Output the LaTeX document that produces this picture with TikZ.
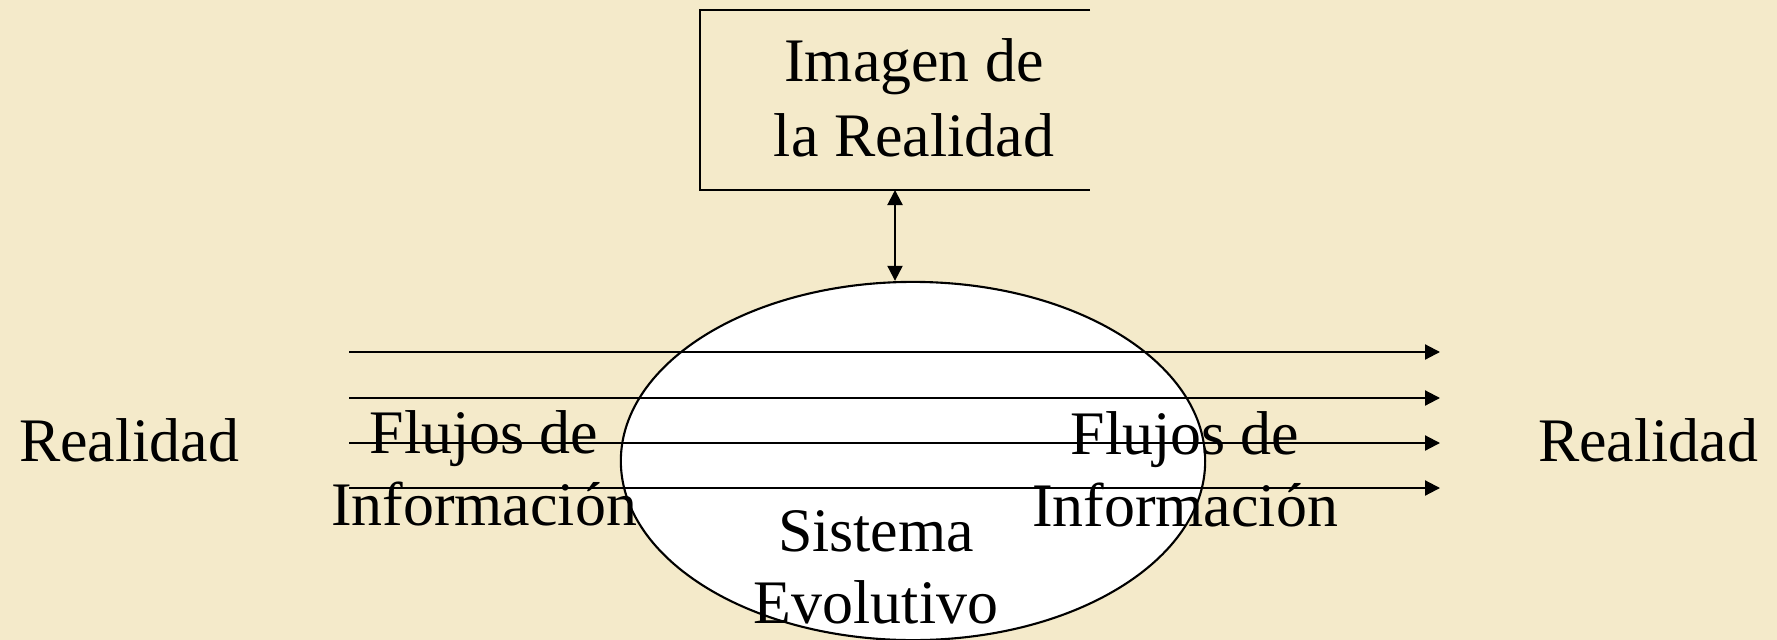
\documentclass[tikz,border=0pt]{standalone}
\usepackage{fontspec}
\setmainfont{Liberation Serif}
\usepackage{xcolor}
\usepackage{tikz}
\usetikzlibrary{arrows.meta,positioning,shapes.geometric}
\definecolor{parch}{RGB}{244,234,202}
\tikzset{
  lbl/.style  ={inner sep=0pt, align=center, anchor=base,
                font=\fontsize{17.6}{20.2}\selectfont},
  sys/.style  ={ellipse, draw, fill=white, line width=0.6pt, inner sep=0pt,
                minimum width=5.84cm, minimum height=3.58cm},
  flow/.style ={-{Triangle[length=1.5mm, width=1.5mm]}, line width=0.6pt},
  link/.style ={{Triangle[length=1.5mm, width=1.5mm]}-{Triangle[length=1.5mm, width=1.5mm]},
                line width=0.6pt},
  frame/.style={line width=0.8pt}
}
\begin{document}
\begin{tikzpicture}[x=0.01cm, y=-0.01cm]
\fill[parch] (0,0) rectangle (1777,640);
\useasboundingbox (0,0) rectangle (1777,640);

% imagen de la realidad
\coordinate (imgtr) at (1090,10);
\coordinate (imgtl) at (700,10);
\coordinate (imgbl) at (700,190);
\coordinate (imgbr) at (1090,190);
\coordinate (imgbot) at (895,190);
\draw[frame] (imgtr) -- (imgtl) -- (imgbl) -- (imgbr);
\node[lbl] (imagen) at (914,157) {Imagen de\\[1.4pt]la Realidad};

% sistema evolutivo
\node[sys] (sistema) at (913,461) {};
\draw[link] (imgbot) -- (imgbot |- sistema.north);

\node[lbl] (realL) at (129,461) {Realidad};
\node[lbl] (realR) at (1648,461) {Realidad};
\node[lbl] (flujosL) at (484,525) {Flujos de\\Información};
\node[lbl] (flujosR) at (1185,526) {Flujos de\\Información};
\node[lbl] (sisLbl) at (876,623) {Sistema\\Evolutivo};

% flujos de informacion
\foreach \y [count=\i] in {352,398,443,488} {
  \coordinate (in\i) at (349,\y);
  \coordinate (out\i) at (1440,\y);
  \draw[flow] (in\i) -- (out\i);
}
\end{tikzpicture}
\end{document}
